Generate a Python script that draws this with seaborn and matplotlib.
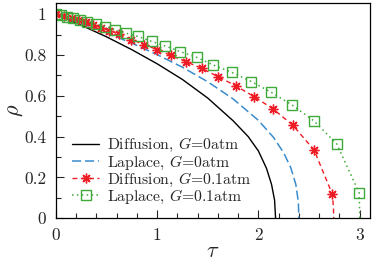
import matplotlib
matplotlib.use("Agg")
import matplotlib.pyplot as plt
from matplotlib.ticker import MultipleLocator
import seaborn as sns

# values
tau_diff0 = [0, 0.25, 0.5, 0.75, 1.0, 1.25, 1.5, 1.75, 1.9, 2.0, 2.08, 2.13, 2.16, 2.17]
rho_diff0 = [1, 0.946, 0.889, 0.826, 0.757, 0.68, 0.589, 0.478, 0.40, 0.33, 0.245, 0.166, 0.089, 0]

tau_lap0 = [0, 0.25, 0.5, 0.75, 1.0, 1.25, 1.5, 1.75, 2.0, 2.15, 2.25, 2.32, 2.37, 2.395, 2.40]
rho_lap0 = [1, 0.956, 0.909, 0.858, 0.802, 0.74, 0.669, 0.585, 0.48, 0.396, 0.321, 0.248, 0.166, 0.08, 0]

# first entries are the marker points, the rest only shape the line end
tau_diff1 = [0, 0.079, 0.158, 0.227, 0.296, 0.365, 0.444, 0.528, 0.627, 0.745, 0.874,
             1.002, 1.132, 1.283, 1.438, 1.602, 1.774, 1.958, 2.145, 2.34, 2.55, 2.731,
             2.742, 2.744]
rho_diff1 = [1, 0.99, 0.98, 0.97, 0.96, 0.948, 0.934, 0.92, 0.901, 0.876, 0.851,
             0.826, 0.799, 0.768, 0.735, 0.694, 0.65, 0.596, 0.536, 0.456, 0.335, 0.118,
             0.05, 0]
n_mark_diff1 = 22

tau_lap1 = [0, 0.049, 0.109, 0.168, 0.237, 0.311, 0.395, 0.489, 0.587, 0.691, 0.812,
            0.945, 1.081, 1.229, 1.392, 1.555, 1.737, 1.93, 2.122, 2.33, 2.547, 2.774,
            2.996, 3.002]
rho_lap1 = [1, 0.994, 0.986, 0.979, 0.972, 0.964, 0.952, 0.939, 0.923, 0.907, 0.891,
            0.867, 0.844, 0.817, 0.788, 0.751, 0.715, 0.67, 0.619, 0.556, 0.478, 0.365,
            0.124, 0]
n_mark_lap1 = 23

labels = [r"Diffusion, $G$=0atm", r"Laplace, $G$=0atm",
          r"Diffusion, $G$=0.1atm", r"Laplace, $G$=0.1atm"]

yticks = [0, 0.2, 0.4, 0.6, 0.8, 1]
yticklabels = ["0", "0.2", "0.4", "0.6", "0.8", "1"]
xticks = [0, 1, 2, 3]
xticklabels = ["0", "1", "2", "3"]

sns.set_style("ticks")
plt.rcParams["font.family"] = "serif"
plt.rcParams["font.serif"] = ["cmr10", "DejaVu Serif"]
plt.rcParams["mathtext.fontset"] = "cm"
plt.rcParams["axes.formatter.use_mathtext"] = True

fig = plt.figure(figsize=(3.74, 2.62), dpi=100)
ax = fig.add_axes([0.1497, 0.1668, 0.8388, 0.8218])

blue = "#3a8ccc"
red = "#ee1c24"
green = "#3faa3a"

sns.lineplot(x=tau_diff0, y=rho_diff0, ax=ax, color="black", lw=1.0,
             estimator=None, sort=False, label=labels[0])
sns.lineplot(x=tau_lap0, y=rho_lap0, ax=ax, color=blue, lw=1.1,
             linestyle=(0, (6, 2.5)), estimator=None, sort=False, label=labels[1])
sns.lineplot(x=tau_diff1, y=rho_diff1, ax=ax, color=red, lw=1.0,
             linestyle=(0, (3.5, 2.5)), estimator=None, sort=False,
             marker=(8, 2, 0), markersize=7, mec=red, mew=1.0,
             markevery=list(range(n_mark_diff1)), label=labels[2])
sns.lineplot(x=tau_lap1, y=rho_lap1, ax=ax, color=green, lw=1.1,
             linestyle=(0, (1, 2.2)), estimator=None, sort=False,
             marker="s", markersize=6.5, mfc="none", mec=green, mew=1.0,
             markevery=list(range(n_mark_lap1)), label=labels[3])

ax.set_xlim(0, 3.1)
ax.set_ylim(0, 1.055)
ax.set_xticks(xticks)
ax.set_xticklabels(xticklabels)
ax.set_yticks(yticks)
ax.set_yticklabels(yticklabels)
ax.xaxis.set_minor_locator(MultipleLocator(0.2))
ax.yaxis.set_minor_locator(MultipleLocator(0.1))
ax.tick_params(which="both", direction="in", top=False, right=False,
               labelsize=12.5, width=0.8, pad=7)
ax.tick_params(which="major", length=6)
ax.tick_params(which="minor", length=3.5)
for s in ax.spines.values():
    s.set_visible(True)
    s.set_linewidth(0.9)
    s.set_color("black")

ax.set_xlabel(r"$\tau$", fontsize=16, labelpad=-1)
ax.set_ylabel(r"$\rho$", fontsize=16, labelpad=-1)

ax.legend(loc="lower left", bbox_to_anchor=(0.012, 0.0), frameon=False,
          fontsize=11.3, handlelength=1.7, handletextpad=0.5,
          labelspacing=-0.06, borderpad=0.5, borderaxespad=0.3)

fig.savefig("out.png", dpi=100)
